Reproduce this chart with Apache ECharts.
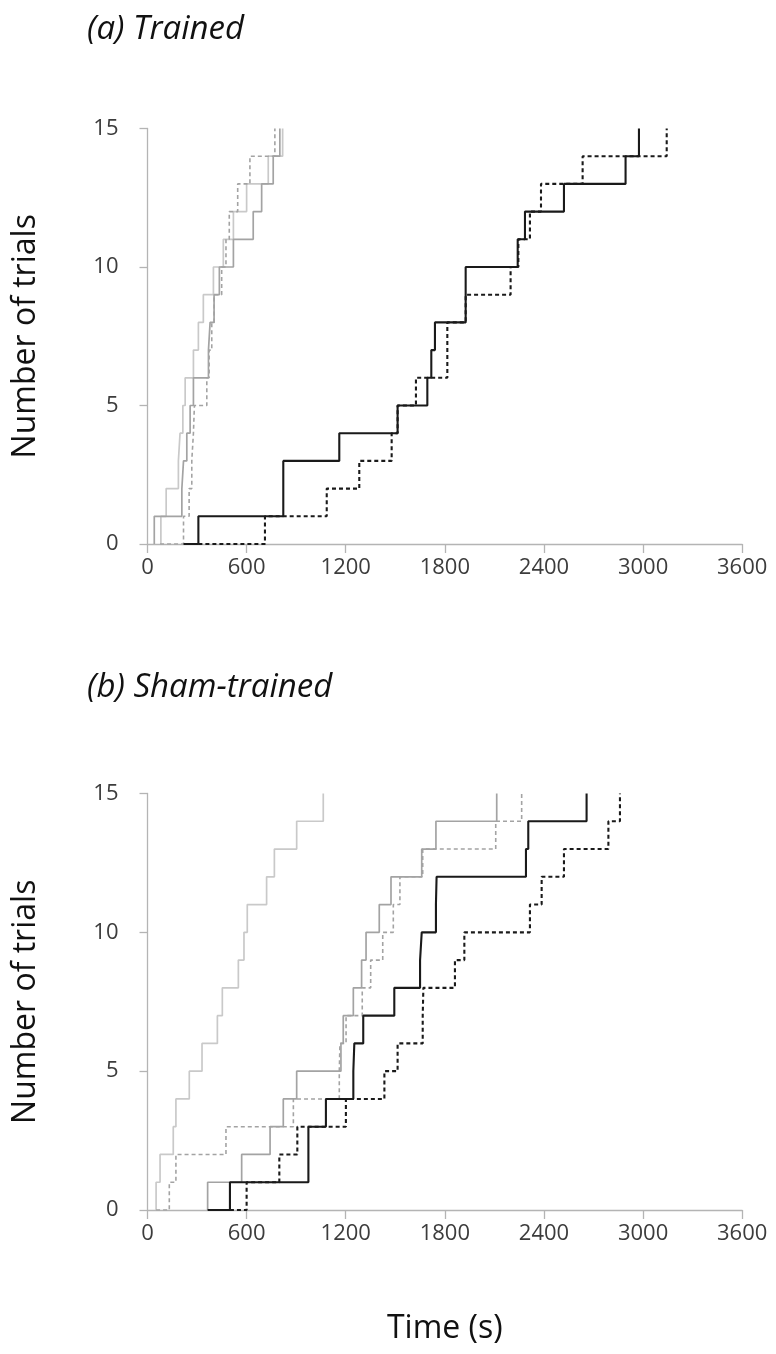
<!DOCTYPE html>
<html>
<head>
<meta charset="utf-8">
<script src="https://cdn.jsdelivr.net/npm/echarts@6/dist/echarts.min.js"></script>
<style>
  html, body { margin: 0; padding: 0; background: #fff; }
  #container { width: 776px; height: 1354px; }
</style>
</head>
<body>
<div id="container"></div>
<script>
// axis ticks
const xTicks = [0, 600, 1200, 1800, 2400, 3000, 3600];
const yTicks = [0, 5, 10, 15];

// time (s) at which each trial (1..15) was completed; start = where the line begins at 0
// (a) Trained
const aLightStart = 81;
const aLight = [81, 113, 187, 197, 214, 228, 278, 308, 338, 399, 459, 520, 600, 731, 818];
const aGrayStart = 41;
const aGray = [41, 208, 218, 238, 258, 278, 369, 379, 403, 435, 520, 640, 691, 761, 801];
const aGrayDashStart = 76;
const aGrayDash = [218, 252, 268, 278, 284, 359, 373, 389, 403, 449, 475, 495, 546, 620, 771];
const aBlackStart = 218;
const aBlack = [308, 822, 822, 1161, 1514, 1694, 1718, 1740, 1926, 1926, 2241, 2285, 2521, 2894, 2975];
const aBlackDashStart = 308;
const aBlackDash = [711, 1085, 1282, 1478, 1514, 1625, 1815, 1815, 1926, 2198, 2245, 2315, 2382, 2634, 3143];

// (b) Sham-trained
const bLightStart = 52;
const bLight = [52, 76, 156, 172, 253, 330, 423, 453, 550, 584, 604, 721, 768, 903, 1064];
const bGrayDashStart = 52;
const bGrayDash = [132, 172, 475, 883, 1161, 1165, 1202, 1300, 1351, 1424, 1488, 1528, 1666, 2108, 2265];
const bGrayStart = 364;
const bGray = [364, 570, 742, 822, 903, 1171, 1185, 1246, 1296, 1323, 1403, 1474, 1660, 1746, 2114];
const bBlackStart = 364;
const bBlack = [499, 974, 974, 1080, 1246, 1252, 1306, 1494, 1650, 1660, 1746, 1750, 2291, 2305, 2658];
const bBlackDashStart = 499;
const bBlackDash = [600, 798, 907, 1201, 1434, 1514, 1666, 1670, 1861, 1918, 2315, 2386, 2521, 2790, 2860];

const FONT = 'Open Sans';
const axisGray = '#b4b4b4';
const labelColor = '#3c3c3c';

// line looks
const styles = {
  light:     { color: '#c9c9c9', width: 1.7, type: 'solid' },
  gray:      { color: '#a3a3a3', width: 1.7, type: 'solid' },
  grayDash:  { color: '#a3a3a3', width: 1.6, type: [4, 3] },
  black:     { color: '#1a1a1a', width: 2.1, type: 'solid' },
  blackDash: { color: '#1a1a1a', width: 2.1, type: [4, 3] }
};

// cumulative step line: [start,0], [t1,1] ... [t15,15]
function stepData(start, times) {
  const pts = [[start, 0]];
  times.forEach((t, i) => pts.push([t, i + 1]));
  return pts;
}

function makeSeries(name, start, times, style, idx, z) {
  return {
    name: name,
    type: 'line',
    step: 'end',
    xAxisIndex: idx,
    yAxisIndex: idx,
    data: stepData(start, times),
    showSymbol: false,
    symbol: 'none',
    z: z,
    lineStyle: { color: style.color, width: style.width, type: style.type, cap: 'butt' },
    silent: true
  };
}

function xAxisCfg(idx, withName) {
  return {
    gridIndex: idx,
    type: 'value',
    min: xTicks[0],
    max: xTicks[xTicks.length - 1],
    interval: 600,
    name: withName ? 'Time (s)' : '',
    nameLocation: 'middle',
    nameGap: 103,
    nameTextStyle: { fontFamily: FONT, fontSize: 32, color: '#111' },
    axisLine: { show: true, onZero: false, lineStyle: { color: axisGray, width: 1.3 } },
    axisTick: { show: true, inside: false, length: 9, lineStyle: { color: axisGray, width: 1.3 } },
    axisLabel: { margin: 13, fontFamily: FONT, fontSize: 22, color: labelColor,
      formatter: v => String(v) },
    splitLine: { show: false }
  };
}

function yAxisCfg(idx) {
  return {
    gridIndex: idx,
    type: 'value',
    min: yTicks[0],
    max: yTicks[yTicks.length - 1],
    interval: 5,
    name: 'Number of trials',
    nameLocation: 'middle',
    nameRotate: 90,
    nameGap: 106,
    nameTextStyle: { fontFamily: FONT, fontSize: 32, color: '#111' },
    axisLine: { show: true, onZero: false, lineStyle: { color: axisGray, width: 1.3 } },
    axisTick: { show: true, inside: false, length: 8, lineStyle: { color: axisGray, width: 1.3 } },
    axisLabel: { margin: 29, fontFamily: FONT, fontSize: 22, color: labelColor,
      formatter: v => String(v) },
    splitLine: { show: false }
  };
}

const myChart = echarts.init(document.getElementById('container'), null, { renderer: 'canvas' });

const option = {
  animation: false,
  backgroundColor: '#fff',
  title: [
    { text: '(a) Trained', left: 82, top: 8,
      textStyle: { fontFamily: FONT, fontSize: 33, fontStyle: 'italic', fontWeight: 'normal', color: '#111' } },
    { text: '(b) Sham-trained', left: 82, top: 666,
      textStyle: { fontFamily: FONT, fontSize: 33, fontStyle: 'italic', fontWeight: 'normal', color: '#111' } }
  ],
  grid: [
    { left: 147.5, top: 128.5, width: 594.7, height: 415.5 },
    { left: 147.5, top: 793.5, width: 594.7, height: 416.5 }
  ],
  xAxis: [xAxisCfg(0, false), xAxisCfg(1, true)],
  yAxis: [yAxisCfg(0), yAxisCfg(1)],
  series: [
    makeSeries('a light', aLightStart, aLight, styles.light, 0, 2),
    makeSeries('a gray', aGrayStart, aGray, styles.gray, 0, 3),
    makeSeries('a gray dashed', aGrayDashStart, aGrayDash, styles.grayDash, 0, 3),
    makeSeries('a black', aBlackStart, aBlack, styles.black, 0, 4),
    makeSeries('a black dashed', aBlackDashStart, aBlackDash, styles.blackDash, 0, 4),
    makeSeries('b light', bLightStart, bLight, styles.light, 1, 2),
    makeSeries('b gray dashed', bGrayDashStart, bGrayDash, styles.grayDash, 1, 3),
    makeSeries('b gray', bGrayStart, bGray, styles.gray, 1, 3),
    makeSeries('b black', bBlackStart, bBlack, styles.black, 1, 4),
    makeSeries('b black dashed', bBlackDashStart, bBlackDash, styles.blackDash, 1, 4)
  ]
};

myChart.setOption(option);
</script>
</body>
</html>
